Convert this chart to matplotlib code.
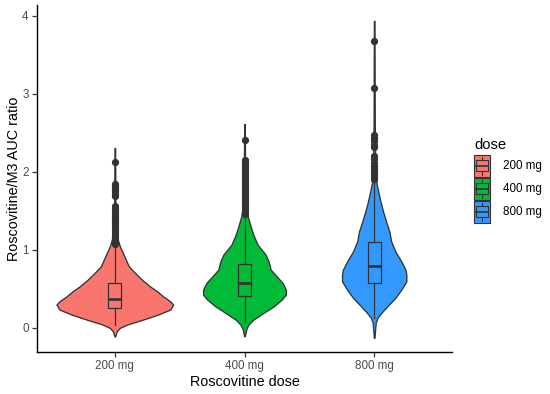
import matplotlib
matplotlib.use("Agg")
import matplotlib.pyplot as plt
import numpy as np
from matplotlib.patches import Rectangle
from matplotlib.lines import Line2D
from matplotlib.legend_handler import HandlerBase

plt.rcParams['font.family'] = ['Liberation Sans', 'DejaVu Sans']

# ---------------- data ----------------
doses = ["200 mg", "400 mg", "800 mg"]
colors = ["#F8766D", "#00BA38", "#3399FF"]

# violin density profiles (ratio value, estimated density)
v200_y = [-0.11, -0.043, 0.0, 0.042, 0.106, 0.17, 0.234, 0.298, 0.34, 0.404, 0.468, 0.532,
          0.618, 0.704, 0.788, 0.874, 0.96, 1.044, 1.13, 1.3, 1.6, 2.0, 2.307]
v200_d = [0.01, 0.068, 0.17, 0.41, 0.95, 1.45, 1.86, 1.96, 1.86, 1.62, 1.42, 1.18,
          0.91, 0.68, 0.47, 0.37, 0.27, 0.17, 0.10, 0.04, 0.02, 0.015, 0.01]

v400_y = [-0.107, -0.01, 0.042, 0.106, 0.192, 0.276, 0.362, 0.426, 0.49, 0.576, 0.66,
          0.746, 0.852, 0.938, 1.066, 1.19, 1.32, 1.428, 1.6, 2.0, 2.3, 2.614]
v400_d = [0.01, 0.068, 0.135, 0.30, 0.64, 0.98, 1.25, 1.39, 1.39, 1.28, 1.08,
          0.88, 0.81, 0.71, 0.44, 0.30, 0.19, 0.11, 0.04, 0.02, 0.015, 0.01]

v800_y = [-0.128, 0.064, 0.128, 0.192, 0.276, 0.384, 0.49, 0.596, 0.682, 0.746, 0.852,
          0.98, 1.108, 1.236, 1.364, 1.49, 1.62, 1.748, 1.855, 2.1, 2.6, 3.2, 3.936]
v800_d = [0.01, 0.05, 0.11, 0.24, 0.44, 0.71, 0.91, 1.08, 1.08, 1.05, 0.91,
          0.71, 0.57, 0.51, 0.40, 0.30, 0.21, 0.135, 0.078, 0.035, 0.02, 0.015, 0.01]

# boxplot statistics
q1 = [0.256, 0.413, 0.576]
med = [0.375, 0.571, 0.797]
q3 = [0.576, 0.819, 1.100]
whis_lo = [0.04, 0.08, 0.13]
whis_hi = [1.05, 1.43, 1.89]

out200 = [2.13, 1.84, 1.81, 1.78, 1.75, 1.72, 1.69, 1.56, 1.52, 1.49, 1.46, 1.43, 1.40,
          1.37, 1.34, 1.31, 1.28, 1.25, 1.22, 1.19, 1.16, 1.13, 1.10, 1.07]
out400 = [2.41, 2.15, 2.12, 2.09, 2.06, 2.03, 2.00, 1.97, 1.94, 1.91, 1.88, 1.85, 1.82,
          1.79, 1.76, 1.73, 1.70, 1.67, 1.64, 1.61, 1.58, 1.55, 1.52, 1.49, 1.46]
out800 = [3.68, 3.07, 2.47, 2.43, 2.39, 2.35, 2.32, 2.20, 2.16, 2.12, 2.08, 2.04, 2.00,
          1.97, 1.94, 1.91]

yticks = [0, 1, 2, 3, 4]

# ---------------- figure ----------------
fig = plt.figure(figsize=(5.5, 3.94), dpi=100)
ax = fig.add_axes([37/550, 42/394, (452-37)/550, (352-5)/394])

prof_y = [v200_y, v400_y, v800_y]
prof_d = [v200_d, v400_d, v800_d]
gmax = max(max(d) for d in prof_d)
full_width = 0.9
vpstats = []
widths = []
for yy, dd, m in zip(prof_y, prof_d, med):
    yy = np.array(yy); dd = np.array(dd)
    vpstats.append(dict(coords=yy, vals=dd, mean=m, median=m, min=yy.min(), max=yy.max()))
    widths.append(full_width * dd.max() / gmax)

positions = [1, 2, 3]
vp = ax.violin(vpstats, positions=positions, widths=widths,
               showmeans=False, showextrema=False, showmedians=False)
for body, c in zip(vp['bodies'], colors):
    body.set_facecolor(c)
    body.set_edgecolor('#333333')
    body.set_alpha(1)
    body.set_linewidth(0.95)
    body.set_joinstyle('round')
    body.set_zorder(2)

bstats = []
fliers = [out200, out400, out800]
for i in range(3):
    bstats.append(dict(med=med[i], q1=q1[i], q3=q3[i], whislo=whis_lo[i],
                       whishi=whis_hi[i], fliers=fliers[i]))
bp = ax.bxp(bstats, positions=positions, widths=0.1, showcaps=False,
            patch_artist=True,
            boxprops=dict(edgecolor='#333333', linewidth=0.9),
            whiskerprops=dict(color='#333333', linewidth=0.9),
            medianprops=dict(color='#333333', linewidth=1.9),
            flierprops=dict(marker='o', markerfacecolor='#333333',
                            markeredgecolor='#333333', markersize=4.2, linestyle='none'),
            zorder=3)
for patch, c in zip(bp['boxes'], colors):
    patch.set_facecolor(c)

ax.set_xlim(0.4, 3.6)
ax.set_ylim(-0.31, 4.14)
ax.set_xticks(positions)
ax.set_xticklabels(doses)
ax.set_yticks(yticks)
ax.set_yticklabels([str(t) for t in yticks])
for s in ['top', 'right']:
    ax.spines[s].set_visible(False)
for s in ['left', 'bottom']:
    ax.spines[s].set_linewidth(1.0)
    ax.spines[s].set_color('black')
ax.tick_params(axis='both', length=3.6, width=0.9, color='#333333',
               labelcolor='#4D4D4D', labelsize=8.4, pad=2.5)
ax.set_xlabel("Roscovitine dose", fontsize=10.4, labelpad=2)
ax.set_ylabel("Roscovitine/M3 AUC ratio", fontsize=10.4, labelpad=1)


class BoxKeyHandler(HandlerBase):
    def create_artists(self, legend, orig_handle, xdescent, ydescent,
                       width, height, fontsize, trans):
        fc = orig_handle.get_facecolor()
        x0, y0 = -xdescent, -ydescent
        ec = '#333333'
        arts = [Rectangle((x0, y0), width, height, facecolor=fc, edgecolor=ec,
                          lw=0.8, transform=trans),
                Rectangle((x0 + 0.125 * width, y0 + 0.25 * height), 0.75 * width,
                          0.5 * height, fill=False, edgecolor=ec, lw=0.8, transform=trans),
                Line2D([x0 + 0.125 * width, x0 + 0.875 * width], [y0 + 0.5 * height] * 2,
                       color=ec, lw=1.2, transform=trans),
                Line2D([x0 + 0.5 * width] * 2, [y0 + 0.1 * height, y0 + 0.25 * height],
                       color=ec, lw=0.8, transform=trans),
                Line2D([x0 + 0.5 * width] * 2, [y0 + 0.75 * height, y0 + 0.9 * height],
                       color=ec, lw=0.8, transform=trans)]
        return arts


handles = [Rectangle((0, 0), 1, 1, facecolor=c) for c in colors]
leg = fig.legend(handles, doses, title="dose", loc='center left',
                 bbox_to_anchor=(466/550, 0.54), frameon=False,
                 handler_map={Rectangle: BoxKeyHandler()},
                 fontsize=8.4, title_fontsize=10.6, handlelength=1.4,
                 handleheight=2.5, labelspacing=0.1, handletextpad=1.1,
                 alignment='left', borderpad=0.2)
leg.get_title().set_position((0, 2))

fig.savefig("out.png", dpi=100)
